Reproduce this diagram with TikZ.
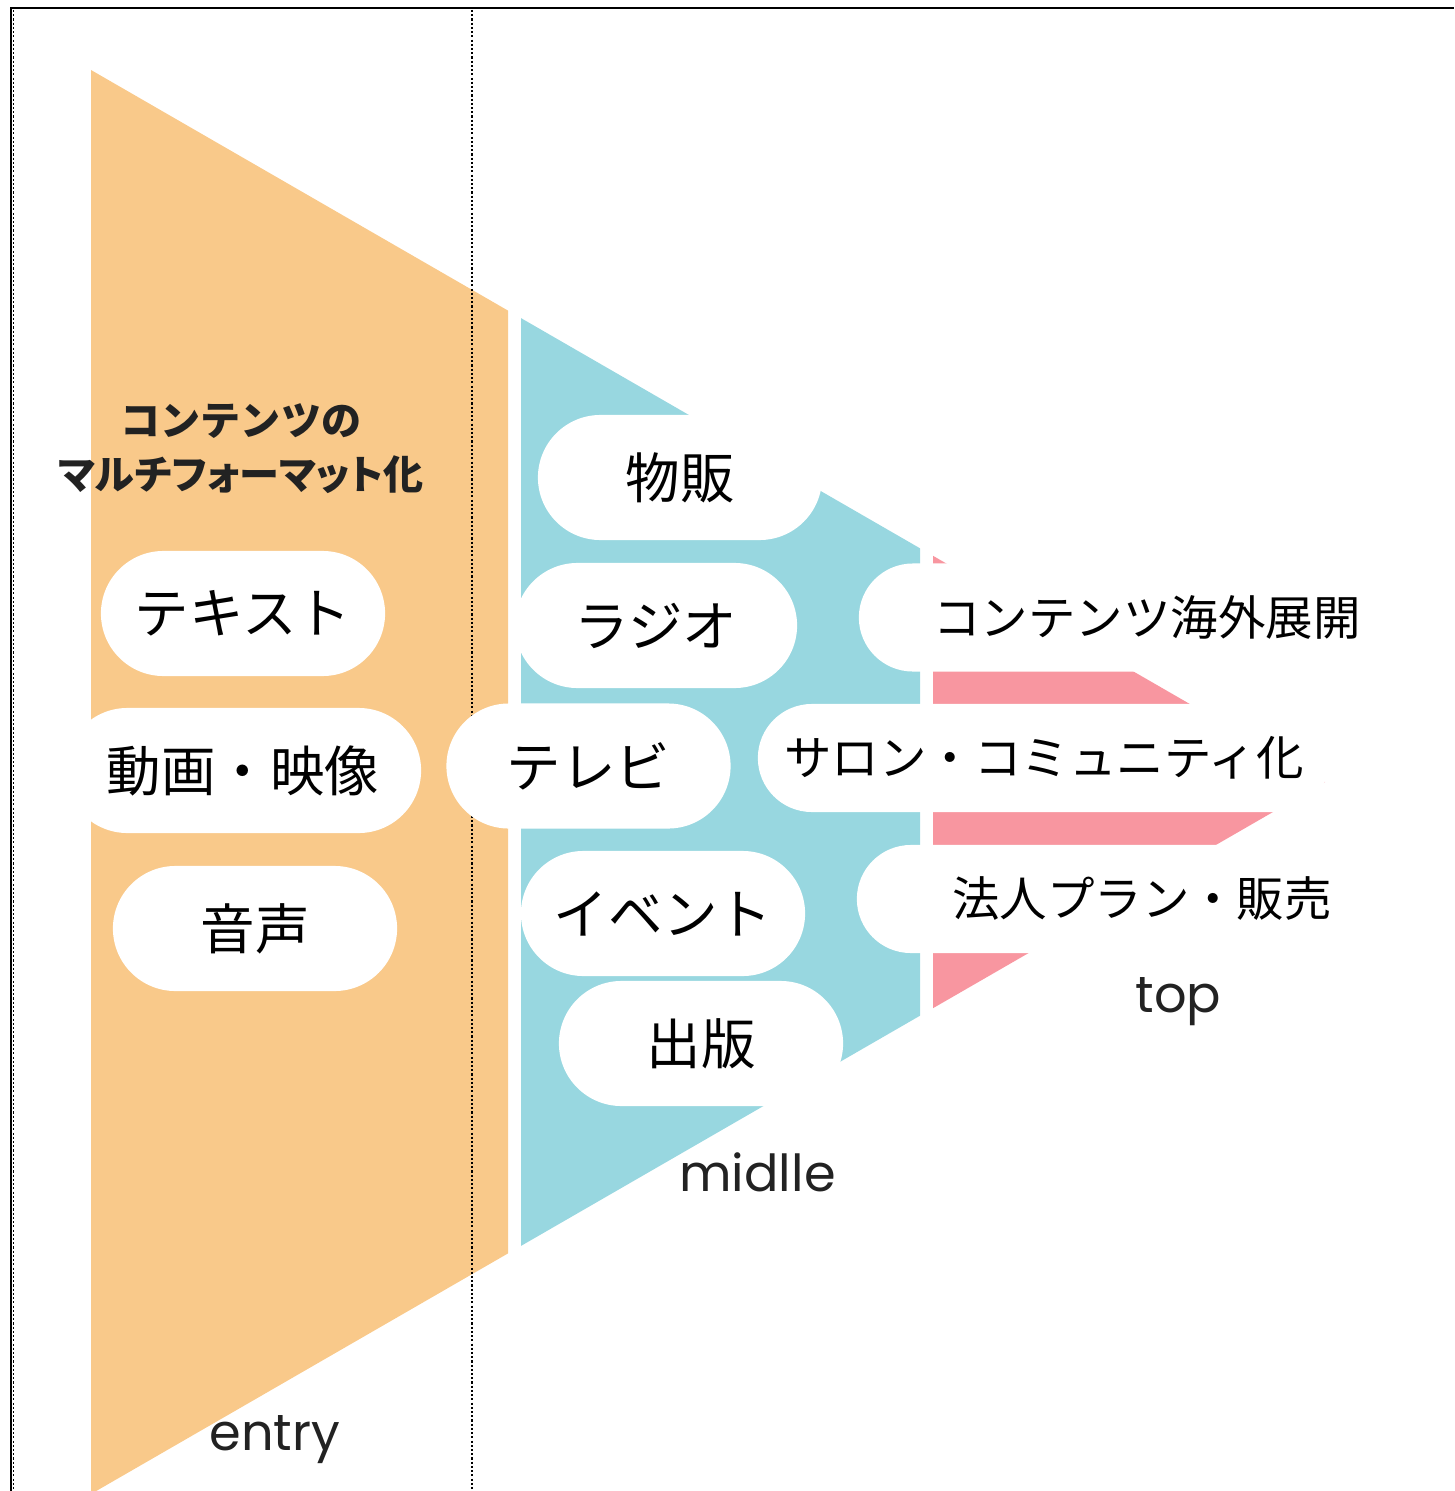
\documentclass[tikz,border=0pt]{standalone}
\usepackage{fontspec}
\setmainfont{Poppins}
\newfontfamily\jpfont{Noto Sans CJK JP}

\definecolor{entryorange}{HTML}{F9C98A}
\definecolor{midblue}{HTML}{98D7E0}
\definecolor{toppink}{HTML}{F896A0}
\definecolor{labelgray}{HTML}{222222}

\begin{document}
\begin{tikzpicture}[
        x=0.01cm, y=-0.01cm,                % pixel grid of the sheet
        pill/.style={
            fill=white,
            rounded corners=0.625cm,
            minimum width=2.84cm,
            minimum height=1.25cm,
            inner sep=0pt,
            font=\jpfont\fontsize{15.5}{18}\selectfont
        },
        widepill/.style={
            fill=white,
            rounded corners=0.54cm,
            minimum height=1.08cm,
            inner sep=0pt,
            font=\jpfont\fontsize{13.5}{16}\selectfont
        },
        stage/.style={text=labelgray, anchor=base, font=\fontsize{14.5}{17}\selectfont},
        heading/.style={text=labelgray, align=center, font=\jpfont\bfseries\fontsize{11.4}{15.4}\selectfont},
        guide/.style={line width=0.5pt, dash pattern=on 0.6pt off 0.6pt}
    ]
    \useasboundingbox (0,0) rectangle (1454,1491);

    % frame
    \draw[line width=0.6pt] (10,8) -- (1454,8);
    \draw[line width=0.6pt] (11,8) -- (11,1491);
    \draw[guide] (13.5,10) -- (13.5,1491);

    % funnel bands
    \fill[entryorange] (91,70) -- (508,310.6) -- (508,1253.4) -- (91,1494) -- cycle;
    \fill[midblue] (521,318.1) -- (920,548.3) -- (920,1015.7) -- (521,1245.9) -- cycle;
    \fill[toppink] (933,555.8) -- (1325,782) -- (933,1008.2) -- cycle;

    % dotted guide
    \draw[guide] (472,10) -- (472,1491);

    % entry
    \node[heading] (title) at (241,449) {コンテンツの\\{\addfontfeatures{RawFeature=+palt}マルチフォーマット化}};
    \node[pill] (text) at (243,613.5) {テキスト};
    \node[pill, minimum width=3.56cm] (video) at (243,770.5) {動画・映像};
    \node[pill] (audio) at (255,928.5) {音声};

    % midlle
    \node[pill] (goods) at (680,477.5) {物販};
    \node[pill, minimum width=2.82cm] (radio) at (656,625.5) {ラジオ};
    \node[pill] (tv) at (588.5,766) {テレビ};
    \node[pill] (event) at (663,913.5) {イベント};
    \node[pill] (book) at (701,1043.5) {出版};

    % top
    \node[widepill, minimum width=5.76cm] (overseas) at (1147,617.5) {コンテンツ海外展開};
    \node[widepill, minimum width=5.72cm] (salon) at (1044,758) {サロン・コミュニティ化};
    \node[widepill, minimum width=5.70cm] (corporate) at (1142,899) {法人プラン・販売};

    % stage names
    \node[stage] (entry) at (275,1450) {entry};
    \node[stage] (midlle) at (757.5,1191) {midlle};
    \node[stage] (top) at (1178.5,1012) {top};
\end{tikzpicture}
\end{document}
